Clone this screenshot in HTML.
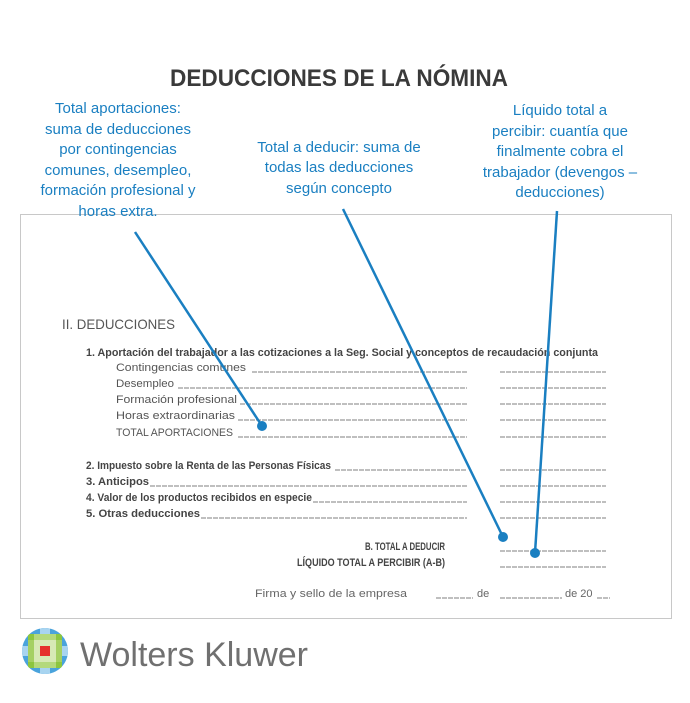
<!DOCTYPE html>
<html><head><meta charset="utf-8"><style>
html,body{margin:0;padding:0;background:#fff;}
svg{display:block;}
</style></head><body>
<svg width="690" height="703" viewBox="0 0 690 703" xmlns="http://www.w3.org/2000/svg" font-family="Liberation Sans, sans-serif">
<rect x="20.5" y="214.5" width="651" height="404" fill="#fff" stroke="#c8c8c8" stroke-width="1"/>
<text x="339" y="86" text-anchor="middle" font-size="24" font-weight="bold" fill="#3a3a3a" textLength="338" lengthAdjust="spacingAndGlyphs">DEDUCCIONES DE LA NÓMINA</text>
<g fill="#1a7fc1" font-size="15" text-anchor="middle">
<text x="118" y="113">Total aportaciones:</text>
<text x="118" y="134">suma de deducciones</text>
<text x="118" y="154">por contingencias</text>
<text x="118" y="175">comunes, desempleo,</text>
<text x="118" y="195">formación profesional y</text>
<text x="118" y="216">horas extra.</text>
<text x="339" y="152">Total a deducir: suma de</text>
<text x="339" y="172">todas las deducciones</text>
<text x="339" y="193">según concepto</text>
<text x="560" y="115">Líquido total a</text>
<text x="560" y="136">percibir: cuantía que</text>
<text x="560" y="156">finalmente cobra el</text>
<text x="560" y="177">trabajador (devengos –</text>
<text x="560" y="197">deducciones)</text>
</g>
<text x="62" y="329" font-size="14" fill="#555" textLength="113" lengthAdjust="spacingAndGlyphs">II. DEDUCCIONES</text>
<g font-size="11" fill="#444">
<text x="86" y="356" font-weight="bold" textLength="512" lengthAdjust="spacingAndGlyphs">1. Aportación del trabajador a las cotizaciones a la Seg. Social y conceptos de recaudación conjunta</text>
<g fill="#555">
<text x="116" y="371" textLength="130" lengthAdjust="spacingAndGlyphs">Contingencias comunes</text>
<text x="116" y="387" textLength="58" lengthAdjust="spacingAndGlyphs">Desempleo</text>
<text x="116" y="403" textLength="121" lengthAdjust="spacingAndGlyphs">Formación profesional</text>
<text x="116" y="419" textLength="119" lengthAdjust="spacingAndGlyphs">Horas extraordinarias</text>
<text x="116" y="436" textLength="117" lengthAdjust="spacingAndGlyphs">TOTAL APORTACIONES</text>
</g>
<g font-weight="bold">
<text x="86" y="469" textLength="245" lengthAdjust="spacingAndGlyphs">2. Impuesto sobre la Renta de las Personas Físicas</text>
<text x="86" y="485" textLength="63" lengthAdjust="spacingAndGlyphs">3. Anticipos</text>
<text x="86" y="501" textLength="226" lengthAdjust="spacingAndGlyphs">4. Valor de los productos recibidos en especie</text>
<text x="86" y="517" textLength="114" lengthAdjust="spacingAndGlyphs">5. Otras deducciones</text>
<text x="445" y="550" text-anchor="end" textLength="80" lengthAdjust="spacingAndGlyphs">B. TOTAL A DEDUCIR</text>
<text x="445" y="566" text-anchor="end" textLength="148" lengthAdjust="spacingAndGlyphs">LÍQUIDO TOTAL A PERCIBIR (A-B)</text>
</g>
<text x="255" y="597" fill="#666" textLength="152" lengthAdjust="spacingAndGlyphs">Firma y sello de la empresa</text>
<text x="477" y="597" fill="#666">de</text>
<text x="565" y="597" fill="#666">de 20</text>
</g>
<g stroke="#555" stroke-width="0.8" stroke-dasharray="5 1">
<line x1="252" y1="372" x2="467" y2="372"/><line x1="500" y1="372" x2="606" y2="372"/>
<line x1="178" y1="388" x2="467" y2="388"/><line x1="500" y1="388" x2="606" y2="388"/>
<line x1="240" y1="404" x2="467" y2="404"/><line x1="500" y1="404" x2="606" y2="404"/>
<line x1="238" y1="420" x2="467" y2="420"/><line x1="500" y1="420" x2="606" y2="420"/>
<line x1="238" y1="437" x2="467" y2="437"/><line x1="500" y1="437" x2="606" y2="437"/>
<line x1="335" y1="470" x2="467" y2="470"/><line x1="500" y1="470" x2="606" y2="470"/>
<line x1="150" y1="486" x2="467" y2="486"/><line x1="500" y1="486" x2="606" y2="486"/>
<line x1="313" y1="502" x2="467" y2="502"/><line x1="500" y1="502" x2="606" y2="502"/>
<line x1="201" y1="518" x2="467" y2="518"/><line x1="500" y1="518" x2="606" y2="518"/>
<line x1="500" y1="551" x2="606" y2="551"/>
<line x1="500" y1="567" x2="606" y2="567"/>
<line x1="436" y1="598" x2="473" y2="598"/>
<line x1="500" y1="598" x2="562" y2="598"/>
<line x1="597" y1="598" x2="610" y2="598"/>
</g>
<g stroke="#1a7fc1" stroke-width="2.5" fill="none">
<line x1="135" y1="232" x2="262" y2="426"/>
<line x1="343" y1="209" x2="503" y2="537"/>
<line x1="557" y1="211" x2="535" y2="553"/>
</g>
<g fill="#1a7fc1">
<circle cx="262" cy="426" r="5"/>
<circle cx="503" cy="537" r="5"/>
<circle cx="535" cy="553" r="5"/>
</g>
<defs><clipPath id="c"><circle cx="45" cy="651" r="23"/></clipPath></defs>
<g clip-path="url(#c)">
<rect x="22" y="628" width="46" height="46" fill="#4aa3dc"/>
<rect x="28" y="634" width="34" height="34" fill="#8cc63f"/>
<rect x="34" y="634" width="22" height="34" fill="#b4d97c"/>
<rect x="28" y="640" width="34" height="22" fill="#a5d063"/>
<rect x="34" y="640" width="22" height="22" fill="#d7e9b5"/>
<rect x="40" y="646" width="10" height="10" fill="#e5302c"/>
<rect x="40" y="628" width="10" height="6" fill="#a8d4f0"/>
<rect x="40" y="668" width="10" height="6" fill="#a8d4f0"/>
<rect x="22" y="646" width="6" height="10" fill="#a8d4f0"/>
<rect x="62" y="646" width="6" height="10" fill="#a8d4f0"/>
</g>
<text x="80" y="666" font-size="34" fill="#707070" textLength="228" lengthAdjust="spacingAndGlyphs">Wolters Kluwer</text>
</svg>
</body></html>
